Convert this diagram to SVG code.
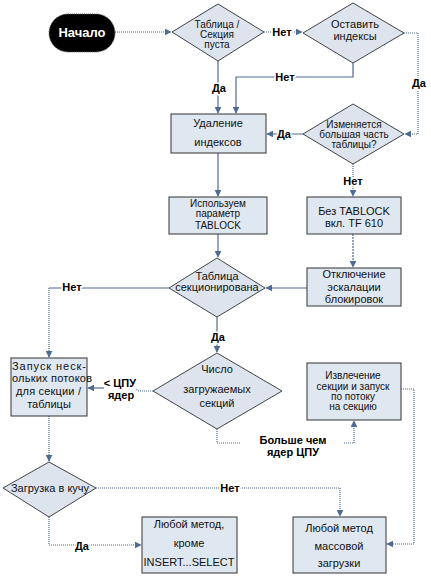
<svg xmlns="http://www.w3.org/2000/svg" width="431" height="579" viewBox="0 0 431 579">
<style>
.bg{fill:#ffffff}
.box{fill:#dfe7f1;stroke:#333;stroke-width:1}
.dia{fill:#dde4ee;stroke:#444;stroke-width:1}
.t{font-family:"Liberation Sans",Arial,sans-serif;font-size:11px;fill:#111;text-anchor:middle}
.s{font-size:10px}
.lbl{font-family:"Liberation Sans",Arial,sans-serif;font-size:11px;font-weight:bold;fill:#000;text-anchor:middle;stroke:#fff;stroke-width:3;paint-order:stroke}
.solid{fill:none;stroke:#4d6b93;stroke-width:1.2}
.dot{fill:none;stroke:#4d6b93;stroke-width:1.2;stroke-dasharray:1,1}
.dash{fill:none;stroke:#4d6b93;stroke-width:1.2;stroke-dasharray:2,1}
</style>
<defs>
<marker id="ar" viewBox="0 0 10 10" refX="9" refY="5" markerWidth="7" markerHeight="7" markerUnits="userSpaceOnUse" orient="auto">
<path d="M0,0 L10,5 L0,10 z" fill="#4d6b93"/>
</marker>
</defs>
<rect class="bg" x="0" y="0" width="431" height="579"/>

<g id="connectors">
<path class="dot" d="M115,32 H171" marker-end="url(#ar)"/>
<path class="dot" d="M264,32 H302" marker-end="url(#ar)"/>
<path class="solid" d="M353,63 V77 H236 V113" marker-end="url(#ar)"/>
<path class="dot" d="M404,33 H418 V134 H405" marker-end="url(#ar)"/>
<path class="solid" d="M218,61 V113" marker-end="url(#ar)"/>
<path class="solid" d="M303,134 H267" marker-end="url(#ar)"/>
<path class="solid" d="M218,153 V196" marker-end="url(#ar)"/>
<path class="solid" d="M218,234 V257" marker-end="url(#ar)"/>
<path class="dot" d="M353,164 V196" marker-end="url(#ar)"/>
<path class="dash" d="M353,234 V267" marker-end="url(#ar)"/>
<path class="solid" d="M307,288 H266" marker-end="url(#ar)"/>
<path class="solid" d="M169,288 H49"/>
<path class="dot" d="M49,288 V357" marker-end="url(#ar)"/>
<path class="solid" d="M217,317 V352" marker-end="url(#ar)"/>
<path class="dot" d="M153,391 H140 Q137,391 136,388"/>
<path class="solid" d="M104,388 H88" marker-end="url(#ar)"/>
<path class="dot" d="M217,429 V443 H240"/>
<path class="dot" d="M344,443 H354 V421" marker-end="url(#ar)"/>
<path class="dot" d="M401,389 H414 V544 H387" marker-end="url(#ar)"/>
<path class="dot" d="M49,416 V461" marker-end="url(#ar)"/>
<path class="dot" d="M96,488 H340 V516" marker-end="url(#ar)"/>
<path class="dot" d="M49,517 V545 H141" marker-end="url(#ar)"/>

<text class="lbl" x="282" y="36">Нет</text>
<text class="lbl" x="285" y="81">Нет</text>
<text class="lbl" x="419" y="87">Да</text>
<text class="lbl" x="219" y="92">Да</text>
<text class="lbl" x="284" y="138">Да</text>
<text class="lbl" x="353" y="185">Нет</text>
<text class="lbl" x="72" y="291">Нет</text>
<text class="lbl" x="218" y="341">Да</text>
<text class="lbl" x="120" y="387">&lt; ЦПУ</text>
<text class="lbl" x="121" y="399">ядер</text>
<text class="lbl" x="293" y="444">Больше чем</text>
<text class="lbl" x="293" y="456">ядер ЦПУ</text>
<text class="lbl" x="230" y="492">Нет</text>
<text class="lbl" x="82" y="550">Да</text>
</g>

<g id="start">
<rect x="49" y="14" width="66" height="38" rx="19" ry="19" fill="#000" stroke="#555" stroke-width="1" stroke-dasharray="1,1"/>
<text x="82" y="37" font-family="'Liberation Sans',Arial,sans-serif" font-size="13" font-weight="bold" fill="#fff" text-anchor="middle">Начало</text>
</g>

<g id="d1">
<polygon class="dia" points="218,4 264,32 218,61 172,32"/>
<text class="t s" x="217" y="28">Таблица /</text>
<text class="t s" x="217" y="38">Секция</text>
<text class="t s" x="217" y="48">пуста</text>
</g>

<g id="d2">
<polygon class="dia" points="353,3 404,33 353,63 303,33"/>
<text class="t" x="355" y="28">Оставить</text>
<text class="t" x="355" y="40">индексы</text>
</g>

<g id="d3">
<polygon class="dia" points="353,104 404,134 353,164 303,134"/>
<text class="t s" x="354" y="128">Изменяется</text>
<text class="t s" x="354" y="138">большая часть</text>
<text class="t s" x="354" y="148">таблицы?</text>
</g>

<g id="b1">
<rect class="box" x="171" y="114" width="95" height="39"/>
<text class="t" x="218" y="127">Удаление</text>
<text class="t" x="218" y="146">индексов</text>
</g>

<g id="b2">
<rect class="box" x="169" y="197" width="98" height="37"/>
<text class="t s" x="218" y="207">Используем</text>
<text class="t s" x="218" y="217">параметр</text>
<text class="t s" x="218" y="229">TABLOCK</text>
</g>

<g id="b3">
<rect class="box" x="307" y="197" width="94" height="37"/>
<text class="t" x="354" y="215">Без TABLOCK</text>
<text class="t" x="354" y="227">вкл. TF 610</text>
</g>

<g id="b4">
<rect class="box" x="307" y="268" width="94" height="38"/>
<text class="t" x="354" y="278">Отключение</text>
<text class="t" x="354" y="291">эскалации</text>
<text class="t" x="354" y="303">блокировок</text>
</g>

<g id="d4">
<polygon class="dia" points="217,258 265,288 217,317 169,288"/>
<text class="t" x="217" y="280">Таблица</text>
<text class="t" x="217" y="291">секционирована</text>
</g>

<g id="d5">
<polygon class="dia" points="217,353 282,391 217,429 153,391"/>
<text class="t" x="217" y="373">Число</text>
<text class="t" x="217" y="393">загружаемых</text>
<text class="t" x="217" y="407">секций</text>
</g>

<g id="b5">
<rect class="box" x="11" y="358" width="76" height="58"/>
<text class="t" x="12" y="370" style="text-anchor:start" textLength="74" lengthAdjust="spacing">Запуск неск-</text>
<text class="t" x="12" y="382" style="text-anchor:start" textLength="80" lengthAdjust="spacing">ольких потоков</text>
<text class="t" x="16" y="395" style="text-anchor:start" textLength="65" lengthAdjust="spacing">для секции /</text>
<text class="t" x="49" y="408">таблицы</text>
</g>

<g id="b6">
<rect class="box" x="307" y="363" width="94" height="57"/>
<text class="t s" x="353" y="379">Извлечение</text>
<text class="t s" x="353" y="390">секции и запуск</text>
<text class="t s" x="353" y="400">по потоку</text>
<text class="t s" x="353" y="410">на секцию</text>
</g>

<g id="d6">
<polygon class="dia" points="49,462 96,488 49,517 3,488"/>
<text class="t" x="50" y="492">Загрузка в кучу</text>
</g>

<g id="b7">
<rect class="box" x="142" y="517" width="95" height="56"/>
<text class="t" x="189" y="528">Любой метод,</text>
<text class="t" x="189" y="547">кроме</text>
<text class="t" x="189" y="566">INSERT...SELECT</text>
</g>

<g id="b8">
<rect class="box" x="293" y="517" width="93" height="56"/>
<text class="t" x="339" y="532">Любой метод</text>
<text class="t" x="339" y="550">массовой</text>
<text class="t" x="339" y="567">загрузки</text>
</g>
</svg>
